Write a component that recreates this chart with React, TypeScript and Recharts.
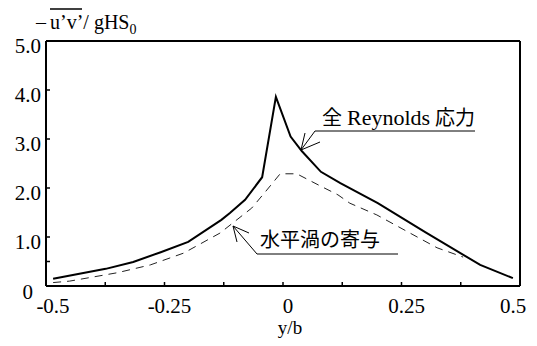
import React from "react"
import {
  LineChart,
  Line,
  XAxis,
  YAxis,
  ReferenceLine,
} from "recharts"

// total Reynolds stress (solid)
const totalX = [-0.485, -0.374, -0.316, -0.258, -0.2, -0.13, -0.112, -0.08, -0.044, -0.015, 0.016, 0.04, 0.08, 0.121, 0.2, 0.3, 0.416, 0.485]
const totalY = [0.15, 0.35, 0.49, 0.69, 0.9, 1.35, 1.49, 1.76, 2.22, 3.86, 3.05, 2.75, 2.33, 2.1, 1.69, 1.1, 0.43, 0.16]

// horizontal-eddy contribution (dashed)
const eddyX = [-0.485, -0.45, -0.35, -0.28, -0.21, -0.133, -0.066, -0.034, -0.006, 0.029, 0.075, 0.116, 0.141, 0.198, 0.268, 0.325, 0.38]
const eddyY = [0.07, 0.1, 0.27, 0.43, 0.67, 1.08, 1.59, 1.96, 2.29, 2.29, 2.06, 1.86, 1.69, 1.45, 1.08, 0.78, 0.59]

const xTicks = [-0.5, -0.375, -0.25, -0.125, 0, 0.125, 0.25, 0.375, 0.5]
const xTickLabels: Record<string, string> = { "-0.5": "-0.5", "-0.25": "-0.25", "0": "0", "0.25": "0.25", "0.5": "0.5" }
const yTicks = [0, 0.5, 1, 2, 3, 4, 5]
const yTickLabels: Record<string, string> = { "0": "0", "1": "1.0", "2": "2.0", "3": "3.0", "4": "4.0", "5": "5.0" }

const totalData = totalX.map((x, i) => ({ x, v: totalY[i] }))
const eddyData = eddyX.map((x, i) => ({ x, v: eddyY[i] }))

const FONT = "'Liberation Serif', 'Times New Roman', serif"
const CJK = "'Liberation Serif', 'Noto Sans CJK JP', serif"

const XTick = (props: any) => {
  const { x, y, payload } = props
  const label = xTickLabels[String(payload.value)]
  let dx = 5
  if (payload.value === -0.5) dx = 7
  if (payload.value === 0.5) dx = -7
  return (
    <g>
      {payload.value > -0.5 && payload.value < 0.5 && (
        <line x1={x} y1={y} x2={x} y2={y - 4} stroke="#000" strokeWidth={1.5} />
      )}
      {label && (
        <text x={x + dx} y={y + 27} textAnchor="middle" fontSize={21} fontFamily={FONT} fill="#000">
          {label}
        </text>
      )}
    </g>
  )
}

const YTick = (props: any) => {
  const { x, y, payload } = props
  const label = yTickLabels[String(payload.value)]
  const isZero = payload.value === 0
  return (
    <g>
      {payload.value > 0 && payload.value < 5 && (
        <line x1={x} y1={y} x2={x + 4} y2={y} stroke="#000" strokeWidth={1.5} />
      )}
      {label && (
        <text
          x={isZero ? x - 13 : x - 5}
          y={y + (isZero ? 13 : 12)}
          textAnchor="end"
          fontSize={21}
          fontFamily={FONT}
          fill="#000"
        >
          {label}
        </text>
      )}
    </g>
  )
}

export default function App() {
  return (
    <div style={{ position: "absolute", left: 0, top: 0, width: 537, height: 346, background: "#fff", fontFamily: FONT }}>
      <LineChart width={537} height={346} margin={{ top: 41, right: 17, left: 0, bottom: 30 }}>
        <XAxis
          dataKey="x"
          type="number"
          domain={[-0.5, 0.5]}
          ticks={xTicks}
          interval={0}
          allowDataOverflow
          tickSize={0}
          tickMargin={0}
          tickLine={false}
          height={30}
          axisLine={{ stroke: "#000", strokeWidth: 2 }}
          tick={<XTick />}
        />
        <YAxis
          type="number"
          domain={[0, 5]}
          ticks={yTicks}
          interval={0}
          allowDataOverflow
          width={46}
          tickSize={0}
          tickMargin={0}
          tickLine={false}
          axisLine={{ stroke: "#000", strokeWidth: 2 }}
          tick={<YTick />}
        />
        <ReferenceLine y={5} stroke="#000" strokeWidth={2} />
        <ReferenceLine x={0.5} stroke="#000" strokeWidth={2} />
        <Line
          data={eddyData}
          dataKey="v"
          type="linear"
          stroke="#222"
          strokeWidth={1}
          strokeDasharray="8 6"
          dot={false}
          isAnimationActive={false}
        />
        <Line
          data={totalData}
          dataKey="v"
          type="linear"
          stroke="#000"
          strokeWidth={2}
          dot={false}
          isAnimationActive={false}
        />
      </LineChart>

      <svg width={537} height={346} style={{ position: "absolute", left: 0, top: 0, pointerEvents: "none" }}>
        {/* y-axis title: -u'v'/gHS0, overbar drawn over u'v' */}
        <line x1={50} y1={9} x2={82} y2={9} stroke="#000" strokeWidth={1.5} />
        <text y={29} fontSize={20} fontFamily={FONT} fill="#000">
          <tspan x={36}>–</tspan>
          <tspan x={50}>u’v’/ gHS</tspan>
          <tspan dy={5} fontSize={14}>0</tspan>
        </text>

        {/* x-axis title */}
        <text x={290} y={334} textAnchor="middle" fontSize={19} fontFamily={FONT} fill="#000">y/b</text>

        {/* label: total Reynolds stress */}
        <text y={125} fontSize={20} fontFamily={CJK} fill="#000">
          <tspan x={322}>全</tspan>
          <tspan x={347} fontSize={22}>Reynolds</tspan>
          <tspan x={435}>応力</tspan>
        </text>
        <polyline points="475,131 315,131 301,150" fill="none" stroke="#000" strokeWidth={1} />
        <line x1={301} y1={150} x2={305} y2={133} stroke="#000" strokeWidth={1} />
        <line x1={301} y1={150} x2={320} y2={142} stroke="#000" strokeWidth={1} />

        {/* label: horizontal-eddy contribution */}
        <text x={260} y={247} fontSize={20} fontFamily={CJK} fill="#000">水平渦の寄与</text>
        <polyline points="398,254 257,254 233,226" fill="none" stroke="#000" strokeWidth={1} />
        <line x1={233} y1={226} x2={249} y2={233} stroke="#000" strokeWidth={1} />
        <line x1={233} y1={226} x2={237} y2={242} stroke="#000" strokeWidth={1} />
      </svg>
    </div>
  )
}
